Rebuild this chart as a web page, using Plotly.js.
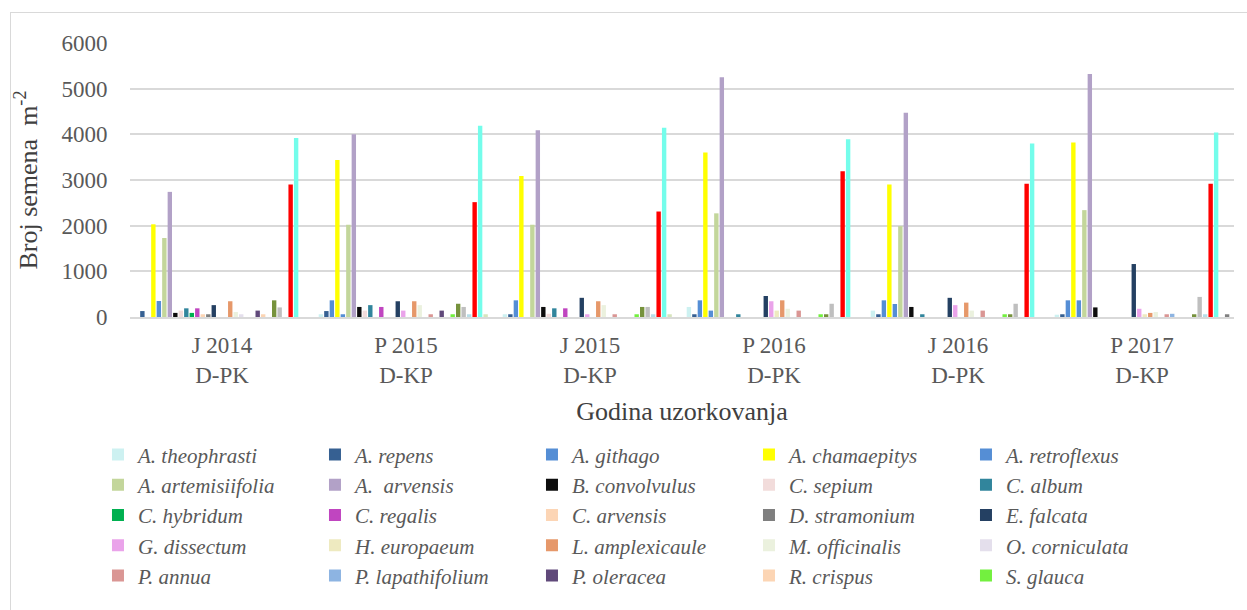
<!DOCTYPE html>
<html><head><meta charset="utf-8">
<script src="https://cdn.plot.ly/plotly-3.0.1.min.js"></script>
<style>
html,body{margin:0;padding:0;background:#fff;overflow:hidden;width:1247px;height:610px;}
#chart{width:1247px;height:610px;position:absolute;left:0;top:0;}
#chart svg text{font-family:"Liberation Serif","Times New Roman",Times,serif !important;}
#chart .legendtext{font-style:italic !important;}
#frameTop{position:absolute;left:10px;top:12px;width:1237px;height:1px;background:#D9D9D9;pointer-events:none;}
#frameLeft{position:absolute;left:10px;top:12px;width:1px;height:598px;background:#D9D9D9;pointer-events:none;}
#preload{position:absolute;left:-9999px;top:0;font-family:"Liberation Serif",serif;}
</style></head><body>
<div id="preload">Aa 0123456789 <i>Aa italic</i></div>
<div id="chart"></div><div id="frameTop"></div><div id="frameLeft"></div>
<script>
// Categories (sampling year / treatment)
const categories = ['J 2014<br>D-PK', 'P 2015<br>D-KP', 'J 2015<br>D-KP', 'P 2016<br>D-PK', 'J 2016<br>D-PK', 'P 2017<br>D-KP'];

// Series values (seeds per m2), one array per species
const aTheophrasti    = [0, 60, 60, 220, 140, 50];
const aRepens         = [130, 130, 60, 60, 60, 60];
const aGithago        = [0, 365, 365, 365, 365, 365];
const aChamaepitys    = [2030, 3440, 3090, 3600, 2900, 3820];
const aRetroflexus    = [350, 60, 0, 140, 285, 365];
const aArtemisiifolia = [1730, 2020, 2020, 2270, 1990, 2340];
const aArvensis       = [2740, 4000, 4090, 5250, 4470, 5320];
const bConvolvulus    = [90, 220, 220, 0, 220, 210];
const cSepium         = [140, 140, 70, 0, 0, 0];
const cAlbum          = [190, 260, 190, 60, 60, 0];
const cHybridum       = [90, 0, 0, 0, 0, 0];
const cRegalis        = [190, 220, 190, 0, 0, 0];
const cArvensis       = [60, 0, 0, 0, 0, 0];
const dStramonium     = [60, 0, 0, 0, 0, 0];
const eFalcata        = [260, 345, 420, 460, 420, 1160];
const gDissectum      = [0, 140, 60, 345, 260, 180];
const hEuropaeum      = [0, 0, 0, 140, 0, 60];
const lAmplexicaule   = [345, 345, 345, 365, 315, 90];
const mOfficinalis    = [110, 260, 260, 180, 140, 110];
const oCorniculata    = [60, 0, 0, 0, 0, 0];
const pAnnua          = [0, 60, 60, 140, 140, 60];
const pLapathifolium  = [0, 0, 0, 0, 0, 70];
const pOleracea       = [140, 140, 0, 0, 0, 0];
const rCrispus        = [60, 0, 0, 0, 0, 0];
const sGlauca         = [0, 60, 60, 60, 60, 0];
// further series whose legend entries are cut off in the original
const series26        = [365, 290, 220, 60, 60, 60];
const series27        = [210, 220, 220, 290, 290, 440];
const series28        = [0, 60, 60, 0, 0, 60];
const series29        = [2900, 2515, 2310, 3190, 2920, 2920];
const series30        = [3920, 4190, 4145, 3890, 3800, 4040];
const series31        = [0, 60, 60, 0, 0, 0];
const series32        = [0, 0, 0, 0, 0, 60];

const seriesNames = ['A. theophrasti','A. repens','A. githago','A. chamaepitys','A. retroflexus',
  'A. artemisiifolia','A.  arvensis','B. convolvulus','C. sepium','C. album',
  'C. hybridum','C. regalis','C. arvensis','D. stramonium','E. falcata',
  'G. dissectum','H. europaeum','L. amplexicaule','M. officinalis','O. corniculata',
  'P. annua','P. lapathifolium','P. oleracea','R. crispus','S. glauca',
  'Serija 26','Serija 27','Serija 28','Serija 29','Serija 30','Serija 31','Serija 32'];
const seriesValues = [aTheophrasti,aRepens,aGithago,aChamaepitys,aRetroflexus,
  aArtemisiifolia,aArvensis,bConvolvulus,cSepium,cAlbum,
  cHybridum,cRegalis,cArvensis,dStramonium,eFalcata,
  gDissectum,hEuropaeum,lAmplexicaule,mOfficinalis,oCorniculata,
  pAnnua,pLapathifolium,pOleracea,rCrispus,sGlauca,
  series26,series27,series28,series29,series30,series31,series32];
const seriesColors = ['#CDF1F1','#366092','#558ED5','#FFFF00','#558ED5',
  '#C3D69B','#B2A1C7','#0D0D0D','#F2DCDB','#31859C',
  '#00B050','#C045C0','#FCD5B5','#7F7F7F','#244062',
  '#EAA3EA','#EEEAC0','#E6986A','#EBF1DE','#E4DFEC',
  '#DA9694','#8DB4E2','#60497A','#FCD5B4','#73F03F',
  '#76923C','#BFBFBF','#B7DEE8','#FF0000','#74FDEB','#D7E4BD','#808080'];
const shownInLegend = 25;

const fontFam = '"Liberation Serif", "Times New Roman", Times, serif';
const grey = '#595959';

const traces = [];
for (let i = 0; i < seriesNames.length; i++) {
  const inLegend = i < shownInLegend;
  traces.push({
    type: 'bar', name: inLegend ? '<i>' + seriesNames[i] + '</i>' : seriesNames[i],
    x: categories, y: seriesValues[i],
    marker: {color: seriesColors[i], line: {width: 0}},
    showlegend: inLegend
  });
}

const layout = {
  width: 1247, height: 610,
  margin: {l: 130, r: 13, t: 43, b: 293},
  paper_bgcolor: '#FFFFFF', plot_bgcolor: '#FFFFFF',
  barmode: 'group', bargap: 0.045, bargroupgap: 0.2,
  font: {family: fontFam, color: grey, size: 22},
  xaxis: {
    type: 'category', showgrid: false, showline: true, linecolor: '#D9D9D9', linewidth: 2,
    ticks: 'outside', ticklen: 6, tickcolor: 'rgba(0,0,0,0)',
    tickfont: {family: fontFam, size: 23, color: grey},
    title: {text: 'Godina uzorkovanja', font: {family: fontFam, size: 26, color: '#404040'}, standoff: 15}
  },
  yaxis: {
    range: [0, 6000], dtick: 1000, showgrid: true, gridcolor: '#D9D9D9', gridwidth: 1.5,
    zeroline: false, showline: false, ticks: 'outside', ticklen: 17, tickcolor: 'rgba(0,0,0,0)',
    tickfont: {family: fontFam, size: 23, color: grey},
    title: {text: 'Broj semena  m<sup>-2</sup>', font: {family: fontFam, size: 26, color: '#404040'}, standoff: 16}
  },
  showlegend: true,
  legend: {
    orientation: 'h', traceorder: 'normal',
    x: -0.029, xanchor: 'left', y: -0.428, yanchor: 'top',
    entrywidth: 172, entrywidthmode: 'pixels',
    bgcolor: 'rgba(0,0,0,0)', borderwidth: 0,
    font: {family: fontFam, size: 21, color: grey}
  }
};

Plotly.newPlot('chart', traces, layout, {displayModeBar: false});
</script>
</body></html>
